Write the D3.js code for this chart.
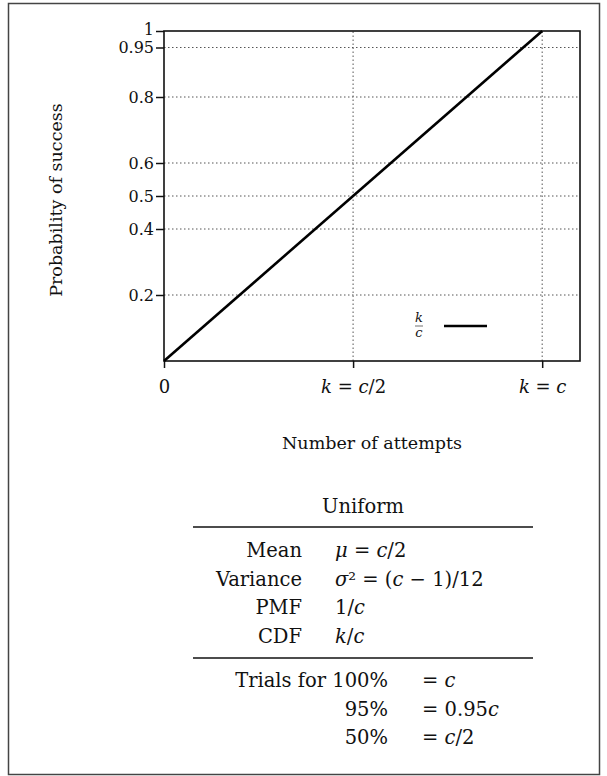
<!DOCTYPE html>
<html>
<head>
<meta charset="utf-8">
<script src="https://cdn.jsdelivr.net/npm/d3@7"></script>
<style>
  html, body { margin: 0; padding: 0; background: #fff; }
  svg text { font-family: "DejaVu Serif", "Liberation Serif", serif; fill: #111; }
</style>
</head>
<body>
<svg id="chart" width="607" height="776"></svg>
<script>
// chart values
const xDomain = [0, 1.1];
const yDomain = [0, 1];
const yTicks = [0.2, 0.4, 0.5, 0.6, 0.8, 0.95, 1];
const yTickLabels = ["0.2", "0.4", "0.5", "0.6", "0.8", "0.95", "1"];
const xTicks = [0, 0.5, 1];
// *...* marks italic (math) runs
const xTickLabels = ["0", "*k* = *c*/2", "*k* = *c*"];
const cdfPoints = [[0, 0], [1, 1]];
const seriesName = ["k", "c"];

const tableTitle = "Uniform";
const statLabels = ["Mean", "Variance", "PMF", "CDF"];
const statValues = ["*μ* = *c*/2", "*σ*² = (*c* − 1)/12", "1/*c*", "*k*/*c*"];
const trialLabels = ["Trials for 100%", "95%", "50%"];
const trialValues = ["= *c*", "= 0.95*c*", "= *c*/2"];

const svg = d3.select("#chart");
const margin = { left: 164, top: 31, right: 580, bottom: 361 };

const x = d3.scaleLinear().domain(xDomain).range([margin.left, margin.right]);
const y = d3.scaleLinear().domain(yDomain).range([margin.bottom, margin.top]);

// write a string with *italic* runs as tspans
function richText(sel, str) {
  str.split("*").forEach((part, i) => {
    if (!part) return;
    sel.append("tspan")
      .attr("font-style", i % 2 ? "italic" : "normal")
      .text(part);
  });
}

// outer frame
svg.append("rect")
  .attr("x", 8.5).attr("y", 3.5)
  .attr("width", 591).attr("height", 771)
  .attr("fill", "none").attr("stroke", "#444").attr("stroke-width", 1.5);

const plot = svg.append("g");

// dotted grid
plot.selectAll("line.hgrid")
  .data(yTicks.filter(d => d < 1))
  .join("line")
  .attr("class", "hgrid")
  .attr("x1", x(xDomain[0])).attr("x2", x(xDomain[1]))
  .attr("y1", d => y(d)).attr("y2", d => y(d))
  .attr("stroke", "#555").attr("stroke-width", 1)
  .attr("stroke-dasharray", "1.5,2.5");

plot.selectAll("line.vgrid")
  .data(xTicks.filter(d => d > 0))
  .join("line")
  .attr("class", "vgrid")
  .attr("x1", d => x(d)).attr("x2", d => x(d))
  .attr("y1", y(0)).attr("y2", y(1))
  .attr("stroke", "#555").attr("stroke-width", 1)
  .attr("stroke-dasharray", "1.5,2.5");

// axes
const yAxis = d3.axisLeft(y)
  .tickValues(yTicks)
  .tickFormat((d, i) => yTickLabels[i])
  .tickSize(8)
  .tickPadding(2);

const gy = plot.append("g")
  .attr("transform", `translate(${x(0)},0)`)
  .call(yAxis);
gy.select(".domain").remove();
gy.selectAll(".tick line").attr("stroke", "#111").attr("stroke-width", 1.5);
gy.selectAll(".tick text")
  .attr("font-family", "DejaVu Serif")
  .attr("font-size", 16)
  .attr("fill", "#111")
  .attr("dy", d => d === 1 ? "0.2em" : "0.32em");

const xAxis = d3.axisBottom(x)
  .tickValues(xTicks)
  .tickFormat("")
  .tickSize(7);

const gx = plot.append("g")
  .attr("transform", `translate(0,${y(0)})`)
  .call(xAxis);
gx.select(".domain").remove();
gx.selectAll(".tick line").attr("stroke", "#111").attr("stroke-width", 1.5);
gx.selectAll(".tick").each(function (d, i) {
  const t = d3.select(this).append("text")
    .attr("y", 26)
    .attr("dy", "0.35em")
    .attr("text-anchor", "middle")
    .attr("font-size", 18)
    .attr("fill", "#111");
  richText(t, xTickLabels[i]);
});

// plot frame
plot.append("rect")
  .attr("x", x(xDomain[0])).attr("y", y(yDomain[1]))
  .attr("width", x(xDomain[1]) - x(xDomain[0]))
  .attr("height", y(yDomain[0]) - y(yDomain[1]))
  .attr("fill", "none").attr("stroke", "#111").attr("stroke-width", 1.6);

// series
const line = d3.line().x(d => x(d[0])).y(d => y(d[1]));
plot.append("path")
  .datum(cdfPoints)
  .attr("d", line)
  .attr("fill", "none")
  .attr("stroke", "#000")
  .attr("stroke-width", 2.6);

// legend
const leg = plot.append("g").attr("transform", "translate(419,326)");
leg.append("text").attr("y", -4).attr("text-anchor", "middle")
  .attr("font-size", 13).attr("font-style", "italic").text(seriesName[0]);
leg.append("line").attr("x1", -4).attr("x2", 4).attr("y1", 0).attr("y2", 0)
  .attr("stroke", "#111").attr("stroke-width", 0.6);
leg.append("text").attr("y", 11).attr("text-anchor", "middle")
  .attr("font-size", 13).attr("font-style", "italic").text(seriesName[1]);
leg.append("line").attr("x1", 25).attr("x2", 68).attr("y1", 0).attr("y2", 0)
  .attr("stroke", "#000").attr("stroke-width", 2.6);

// axis titles
svg.append("text")
  .attr("x", x(0.55)).attr("y", 443).attr("dy", "0.35em")
  .attr("text-anchor", "middle").attr("font-size", 17.5)
  .text("Number of attempts");

svg.append("text")
  .attr("transform", `translate(56,200) rotate(-90)`)
  .attr("dy", "0.35em")
  .attr("text-anchor", "middle").attr("font-size", 17.5)
  .text("Probability of success");

// summary table
const table = svg.append("g").attr("font-size", 19.5);
const rowH = 28.7;

table.append("text")
  .attr("x", 363).attr("y", 506).attr("dy", "0.35em")
  .attr("text-anchor", "middle").text(tableTitle);

table.append("line").attr("x1", 193).attr("x2", 533)
  .attr("y1", 527).attr("y2", 527)
  .attr("stroke", "#111").attr("stroke-width", 1.3);

statLabels.forEach((lab, i) => {
  const cy = 550 + i * rowH;
  table.append("text").attr("x", 302).attr("y", cy).attr("dy", "0.35em")
    .attr("text-anchor", "end").text(lab);
  const v = table.append("text").attr("x", 335).attr("y", cy).attr("dy", "0.35em");
  richText(v, statValues[i]);
});

table.append("line").attr("x1", 193).attr("x2", 533)
  .attr("y1", 658).attr("y2", 658)
  .attr("stroke", "#111").attr("stroke-width", 1.3);

trialLabels.forEach((lab, i) => {
  const cy = 680 + i * rowH;
  table.append("text").attr("x", 388).attr("y", cy).attr("dy", "0.35em")
    .attr("text-anchor", "end").text(lab);
  const v = table.append("text").attr("x", 422).attr("y", cy).attr("dy", "0.35em");
  richText(v, trialValues[i]);
});
</script>
</body>
</html>
